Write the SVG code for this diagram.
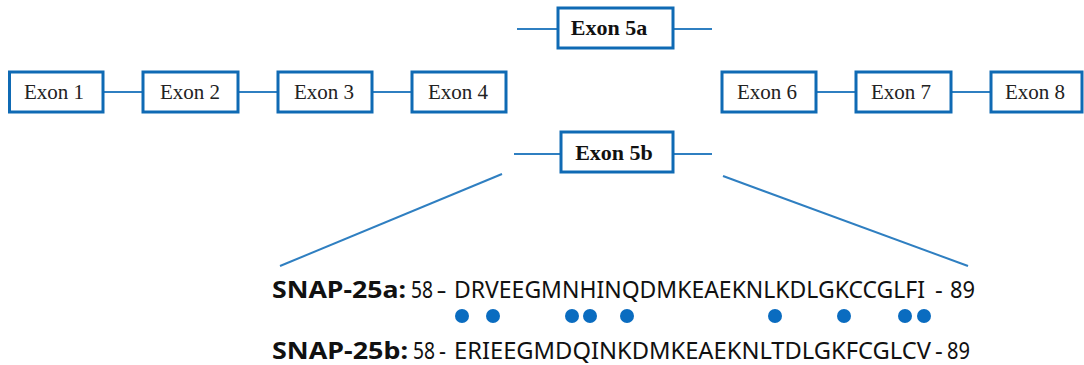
<svg xmlns="http://www.w3.org/2000/svg" width="1084" height="365" viewBox="0 0 1084 365">
<style>
.box{fill:#fff;stroke:#0f6ab4;stroke-width:3}
.ln{stroke:#2f7fc1;stroke-width:2;fill:none}
.ex{font-family:"Liberation Serif","Times New Roman",serif;font-size:21px;fill:#222;text-anchor:middle}
.exb{font-family:"Liberation Serif","Times New Roman",serif;font-size:22px;font-weight:bold;fill:#111;text-anchor:middle}
.sq{font-family:"Noto Sans","DejaVu Sans",sans-serif;font-size:24px;fill:#111}
.lb{font-family:"Noto Sans","DejaVu Sans",sans-serif;font-size:24px;font-weight:bold;fill:#111}
.dot{fill:#0a6cc0}
</style>
<rect width="1084" height="365" fill="#fff"/>
<g id="connectors">
<line class="ln" x1="103" y1="92" x2="143" y2="92"/>
<line class="ln" x1="238" y1="92" x2="278" y2="92"/>
<line class="ln" x1="372" y1="92" x2="412" y2="92"/>
<line class="ln" x1="816" y1="92" x2="856" y2="92"/>
<line class="ln" x1="951" y1="92" x2="991" y2="92"/>
<line class="ln" x1="517" y1="29" x2="558" y2="29"/>
<line class="ln" x1="673" y1="29" x2="712" y2="29"/>
<line class="ln" x1="514" y1="154" x2="561" y2="154"/>
<line class="ln" x1="673" y1="154" x2="712" y2="154"/>
<line class="ln" x1="502" y1="174" x2="280" y2="266"/>
<line class="ln" x1="723" y1="176" x2="968" y2="266"/>
</g>
<g id="exon1"><rect class="box" x="9.5" y="72" width="93.5" height="40"/><text class="ex" x="54" y="99">Exon 1</text></g>
<g id="exon2"><rect class="box" x="143" y="72" width="95" height="40"/><text class="ex" x="190" y="99">Exon 2</text></g>
<g id="exon3"><rect class="box" x="278" y="72" width="94" height="40"/><text class="ex" x="324" y="99">Exon 3</text></g>
<g id="exon4"><rect class="box" x="412" y="72" width="94" height="40"/><text class="ex" x="458" y="99">Exon 4</text></g>
<g id="exon5a"><rect class="box" x="558" y="8" width="115" height="40"/><text class="exb" x="609" y="35">Exon 5a</text></g>
<g id="exon5b"><rect class="box" x="561" y="132" width="112" height="40"/><text class="exb" x="614" y="160">Exon 5b</text></g>
<g id="exon6"><rect class="box" x="722" y="72" width="94" height="40"/><text class="ex" x="767" y="99">Exon 6</text></g>
<g id="exon7"><rect class="box" x="856" y="72" width="95" height="40"/><text class="ex" x="901" y="99">Exon 7</text></g>
<g id="exon8"><rect class="box" x="991" y="72" width="91" height="40"/><text class="ex" x="1035" y="99">Exon 8</text></g>
<g id="seq-a">
<text class="lb" x="272" y="298" textLength="134" lengthAdjust="spacingAndGlyphs">SNAP-25a:</text>
<text class="sq" x="411" y="298" textLength="22" lengthAdjust="spacingAndGlyphs">58</text>
<text class="sq" x="437" y="298" textLength="9" lengthAdjust="spacingAndGlyphs">–</text>
<text class="sq" x="454" y="298" textLength="471" lengthAdjust="spacingAndGlyphs">DRVEEGMNHINQDMKEAEKNLKDLGKCCGLFI</text>
<text class="sq" x="935" y="298">-</text>
<text class="sq" x="950" y="298" textLength="25" lengthAdjust="spacingAndGlyphs">89</text>
</g>
<g id="dots">
<circle class="dot" cx="462" cy="316" r="7"/>
<circle class="dot" cx="493" cy="316" r="7"/>
<circle class="dot" cx="572" cy="316" r="7"/>
<circle class="dot" cx="590" cy="316" r="7"/>
<circle class="dot" cx="627" cy="316" r="7"/>
<circle class="dot" cx="775" cy="316" r="7"/>
<circle class="dot" cx="844" cy="316" r="7"/>
<circle class="dot" cx="905" cy="316" r="7"/>
<circle class="dot" cx="924" cy="316" r="7"/>
</g>
<g id="seq-b">
<text class="lb" x="272" y="359" textLength="136" lengthAdjust="spacingAndGlyphs">SNAP-25b:</text>
<text class="sq" x="413" y="359" textLength="22" lengthAdjust="spacingAndGlyphs">58</text>
<text class="sq" x="439" y="359" textLength="7" lengthAdjust="spacingAndGlyphs">-</text>
<text class="sq" x="454" y="359" textLength="477" lengthAdjust="spacingAndGlyphs">ERIEEGMDQINKDMKEAEKNLTDLGKFCGLCV</text>
<text class="sq" x="935" y="359">-</text>
<text class="sq" x="947" y="359" textLength="23" lengthAdjust="spacingAndGlyphs">89</text>
</g>
</svg>
